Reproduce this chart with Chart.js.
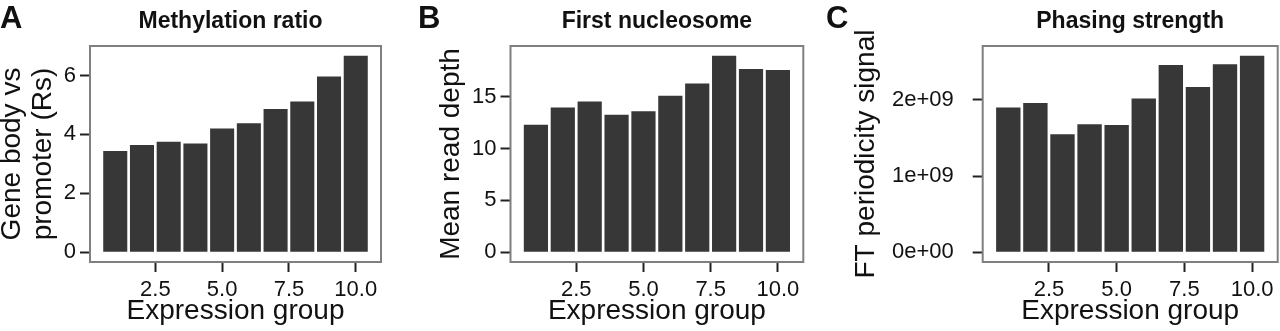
<!DOCTYPE html>
<html>
<head>
<meta charset="utf-8">
<script src="https://cdn.jsdelivr.net/npm/chart.js@4/dist/chart.umd.min.js"></script>
<style>
  html, body { margin: 0; padding: 0; background: #fff; width: 1280px; height: 331px; overflow: hidden; position: relative; }
  canvas { position: absolute; top: 0; }
</style>
</head>
<body>
<canvas id="chartA" width="420" height="331" style="left:-4px"></canvas>
<canvas id="chartB" width="409" height="331" style="left:416px"></canvas>
<canvas id="chartC" width="455" height="331" style="left:825px"></canvas>
<script>
// Groupes d'expression (axe x continu)
const groups = [1, 2, 3, 4, 5, 6, 7, 8, 9, 10];
const xTicks = [2.5, 5, 7.5, 10];
const xTickLabels = ['2.5', '5.0', '7.5', '10.0'];

// Valeurs
const methylationRatio = [3.44, 3.64, 3.75, 3.69, 4.20, 4.38, 4.86, 5.12, 5.97, 6.67];
const firstNucleosome = [12.3, 13.97, 14.55, 13.27, 13.62, 15.12, 16.3, 18.97, 17.7, 17.6];
const phasingStrength = [1.90e9, 1.96e9, 1.55e9, 1.68e9, 1.67e9, 2.02e9, 2.46e9, 2.17e9, 2.47e9, 2.58e9];

const yTicksA = [0, 2, 4, 6];
const yLabelsA = ['0', '2', '4', '6'];
const yTicksB = [0, 5, 10, 15];
const yLabelsB = ['0', '5', '10', '15'];
const yTicksC = [0, 1e9, 2e9];
const yLabelsC = ['0e+00', '1e+09', '2e+09'];

const FONT = "'Liberation Sans', Arial, Helvetica, sans-serif";
const TEXT = '#111';

// Cadre gris, titre du panneau et lettre
const panelDecor = {
    id: 'panelDecor',
    afterDatasetsDraw(chart) {
        const { ctx, chartArea: a } = chart;
        ctx.save();
        ctx.strokeStyle = '#7f7f7f';
        ctx.lineWidth = 2;
        ctx.strokeRect(a.left, a.top, a.right - a.left, a.bottom - a.top);
        ctx.restore();
    },
    afterDraw(chart, args, opts) {
        const { ctx, chartArea: a } = chart;
        ctx.save();
        ctx.fillStyle = TEXT;
        ctx.textBaseline = 'alphabetic';
        ctx.font = 'bold 23px ' + FONT;
        ctx.textAlign = 'center';
        ctx.fillText(opts.title, (a.left + a.right) / 2 + opts.titleDx, 28);
        ctx.font = 'bold 31px ' + FONT;
        ctx.textAlign = 'left';
        ctx.fillText(opts.letter, opts.letterX, 28);
        ctx.restore();
    }
};

function makePanel(id, values, yTicks, yLabels, yTitle, cfg) {
    const top = Math.max(...values);
    const ctx = document.getElementById(id).getContext('2d');
    return new Chart(ctx, {
        type: 'bar',
        data: {
            datasets: [{
                data: groups.map((g, i) => ({ x: g, y: values[i] })),
                backgroundColor: '#373737',
                borderWidth: 0,
                categoryPercentage: 1,
                barPercentage: 0.9
            }]
        },
        options: {
            responsive: false,
            animation: false,
            devicePixelRatio: 1,
            layout: { padding: { top: 46, left: cfg.padLeft, right: cfg.padRight, bottom: 0 } },
            plugins: {
                legend: { display: false },
                tooltip: { enabled: false },
                panelDecor: { title: cfg.title, titleDx: cfg.titleDx, letter: cfg.letter, letterX: cfg.letterX }
            },
            scales: {
                x: {
                    type: 'linear',
                    offset: false,
                    min: 0.055,
                    max: 10.945,
                    afterFit(s) { s.height = 69; },
                    afterBuildTicks(s) { s.ticks = xTicks.map(v => ({ value: v })); },
                    ticks: {
                        callback: (v, i) => xTickLabels[i],
                        font: { family: FONT, size: 22 },
                        color: TEXT,
                        padding: 5,
                        maxRotation: 0
                    },
                    grid: { offset: false, drawOnChartArea: false, tickLength: 10, tickWidth: 2, tickColor: '#222' },
                    border: { display: false },
                    title: {
                        display: true,
                        text: 'Expression group',
                        font: { family: FONT, size: 28, lineHeight: 1.15 },
                        color: TEXT,
                        padding: { top: 0, bottom: 4 }
                    }
                },
                y: {
                    min: -0.05 * top,
                    max: 1.05 * top,
                    afterFit(s) { s.width = cfg.yWidth; },
                    afterBuildTicks(s) { s.ticks = yTicks.map(v => ({ value: v })); },
                    ticks: {
                        callback: (v, i) => yLabels[i],
                        font: { family: FONT, size: 22 },
                        color: TEXT,
                        padding: cfg.tickPad
                    },
                    grid: { drawOnChartArea: false, tickLength: 10, tickWidth: 2, tickColor: '#222' },
                    border: { display: false },
                    title: {
                        display: true,
                        text: yTitle,
                        font: { family: FONT, size: 28, lineHeight: 1.13 },
                        color: TEXT,
                        padding: 0
                    }
                }
            }
        },
        plugins: [panelDecor]
    });
}

makePanel('chartA', methylationRatio, yTicksA, yLabelsA, ['Gene body vs', 'promoter (Rs)'],
    { padLeft: 0, padRight: 35, yWidth: 94, tickPad: 4, title: 'Methylation ratio', titleDx: -5, letter: 'A', letterX: 4 });
makePanel('chartB', firstNucleosome, yTicksB, yLabelsB, 'Mean read depth',
    { padLeft: 19.5, padRight: 21.7, yWidth: 75, tickPad: 4, title: 'First nucleosome', titleDx: 0, letter: 'B', letterX: 2 });
makePanel('chartC', phasingStrength, yTicksC, yLabelsC, 'FT periodicity signal',
    { padLeft: 25.5, padRight: 2.3, yWidth: 132.2, tickPad: 19, title: 'Phasing strength', titleDx: 0, letter: 'C', letterX: 1 });
</script>
</body>
</html>
